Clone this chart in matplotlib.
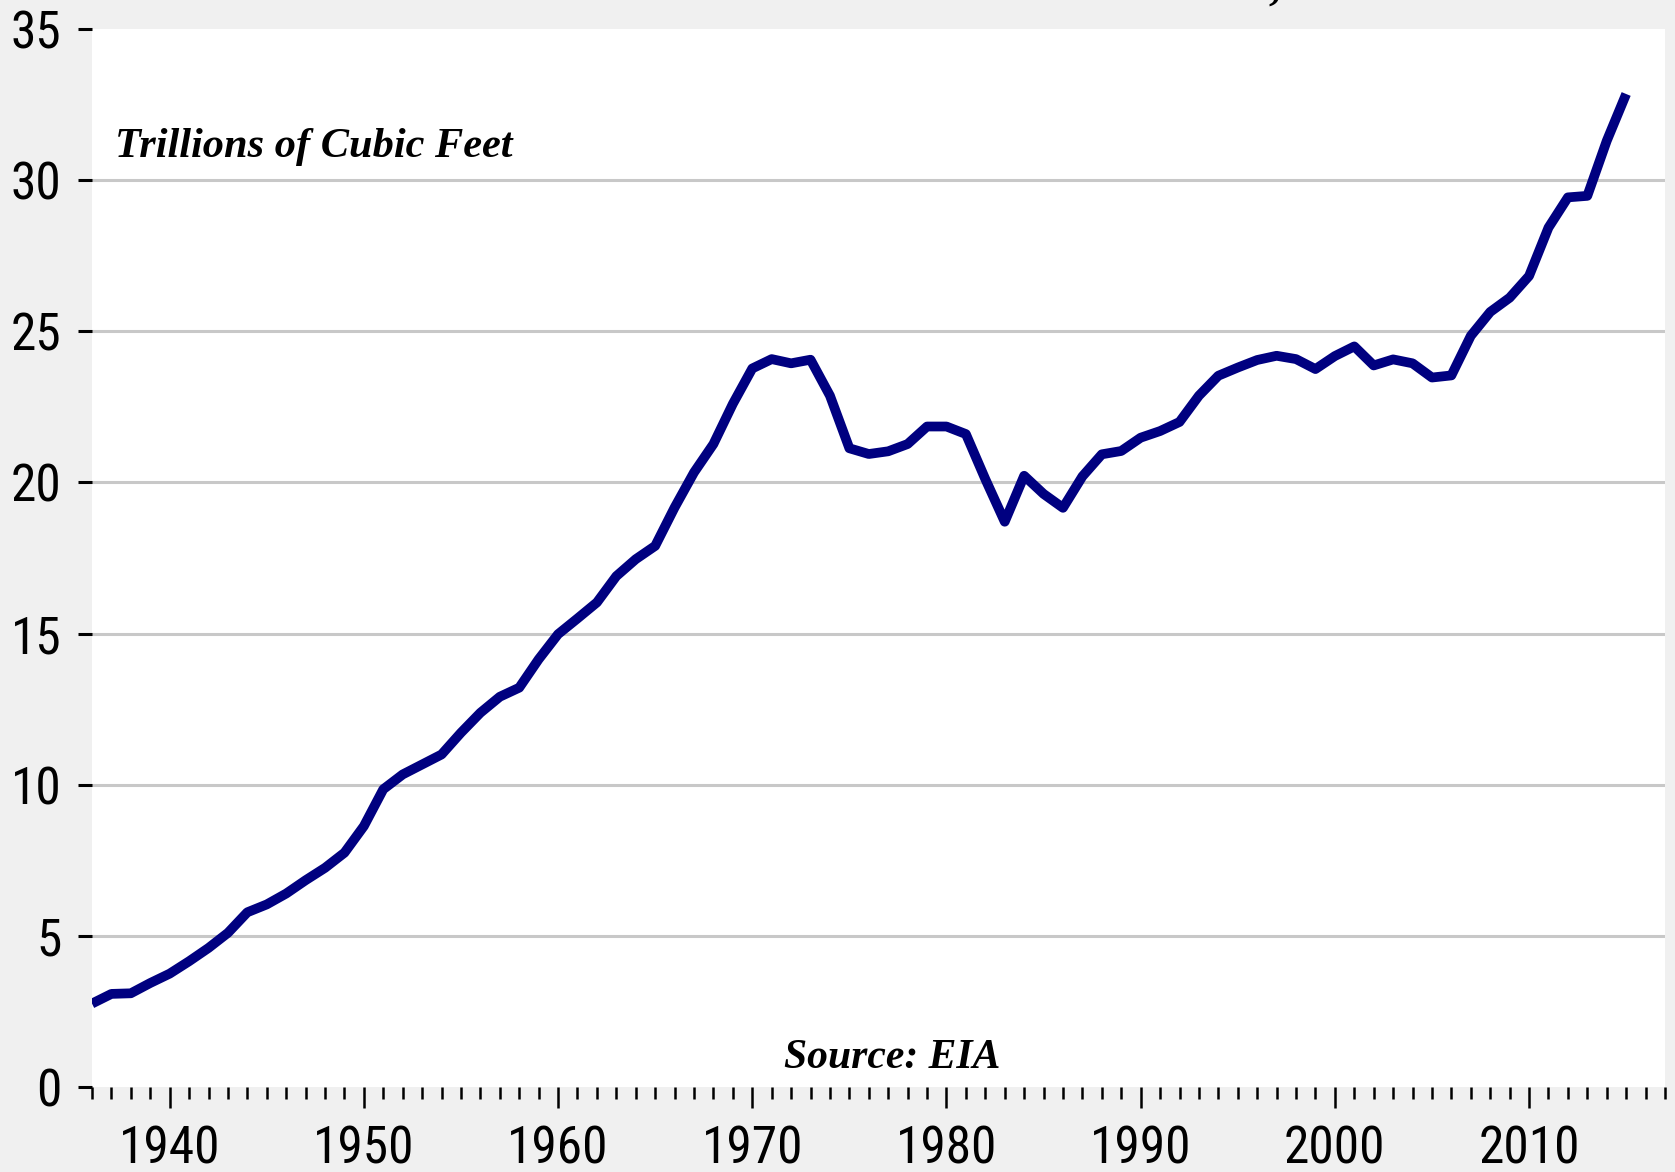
import matplotlib
matplotlib.use('Agg')
import matplotlib.pyplot as plt
from matplotlib.ticker import MultipleLocator

# annual US natural gas production, trillions of cubic feet
years = list(range(1936, 2016))
production = [
    2.76, 3.08, 3.10, 3.44, 3.75, 4.16, 4.60, 5.10, 5.78, 6.04,
    6.40, 6.84, 7.25, 7.75, 8.63, 9.85, 10.34, 10.67, 11.00, 11.72,
    12.38, 12.91, 13.21, 14.15, 14.98, 15.50, 16.03, 16.90, 17.46, 17.90,
    19.17, 20.33, 21.27, 22.60, 23.77, 24.08, 23.94, 24.06, 22.87, 21.13,
    20.94, 21.03, 21.27, 21.85, 21.85, 21.60, 20.11, 18.70, 20.22, 19.62,
    19.16, 20.20, 20.93, 21.04, 21.48, 21.70, 22.00, 22.87, 23.53, 23.80,
    24.05, 24.19, 24.08, 23.75, 24.18, 24.50, 23.87, 24.07, 23.94, 23.47,
    23.54, 24.85, 25.64, 26.11, 26.83, 28.43, 29.43, 29.48, 31.30, 32.85,
]
y_ticks = [0, 5, 10, 15, 20, 25, 30, 35]
x_labels = [1940, 1950, 1960, 1970, 1980, 1990, 2000, 2010]

TICK_FONT = ['Roboto Condensed', 'Liberation Sans', 'DejaVu Sans']
NOTE_FONT = ['Liberation Serif', 'DejaVu Serif']

fig = plt.figure(figsize=(16.75, 11.72), dpi=100, facecolor='#f0f0f0')
ax = fig.add_axes([92 / 1675, 85 / 1172, 1573 / 1675, 1058 / 1172])
ax.set_facecolor('white')

for v in y_ticks[1:-1]:
    ax.axhline(v, color='#c8c8c8', lw=2.2, zorder=1)

ax.plot(years, production, color='#000080', lw=7, solid_joinstyle='round',
        solid_capstyle='butt', zorder=3)

ax.set_xlim(1936, 2017)
ax.set_ylim(0, 35)
ax.set_yticks(y_ticks)
ax.set_xticks(x_labels)
ax.xaxis.set_minor_locator(MultipleLocator(1))

for s in ax.spines.values():
    s.set_visible(False)

ax.tick_params(axis='y', direction='out', length=10, width=2.2, pad=12,
               labelsize=37, color='black')
ax.tick_params(axis='x', which='major', direction='out', length=15, width=1.8,
               pad=12, labelsize=37)
ax.tick_params(axis='x', which='minor', direction='out', length=8.6, width=1.8)
for lab in ax.get_xticklabels() + ax.get_yticklabels():
    lab.set_family(TICK_FONT)

ax.text(0.0146, 0.879, 'Trillions of Cubic Feet', transform=ax.transAxes,
        ha='left', va='baseline', fontsize=30.5, fontweight='bold',
        fontstyle='italic', family=NOTE_FONT)
ax.text(0.44, 0.018, 'Source: EIA', transform=ax.transAxes,
        ha='left', va='baseline', fontsize=30, fontweight='bold',
        fontstyle='italic', family=NOTE_FONT)

# title sits above the visible canvas, only its descenders show
fig.text(1550 / 1675, 1 + 2 / 1172, 'U.S. Natural Gas Production,  1936 - 2015',
         ha='right', va='baseline', fontsize=36, fontweight='bold',
         fontstyle='italic', family=NOTE_FONT)

fig.savefig('out.png', dpi=100, facecolor=fig.get_facecolor())
